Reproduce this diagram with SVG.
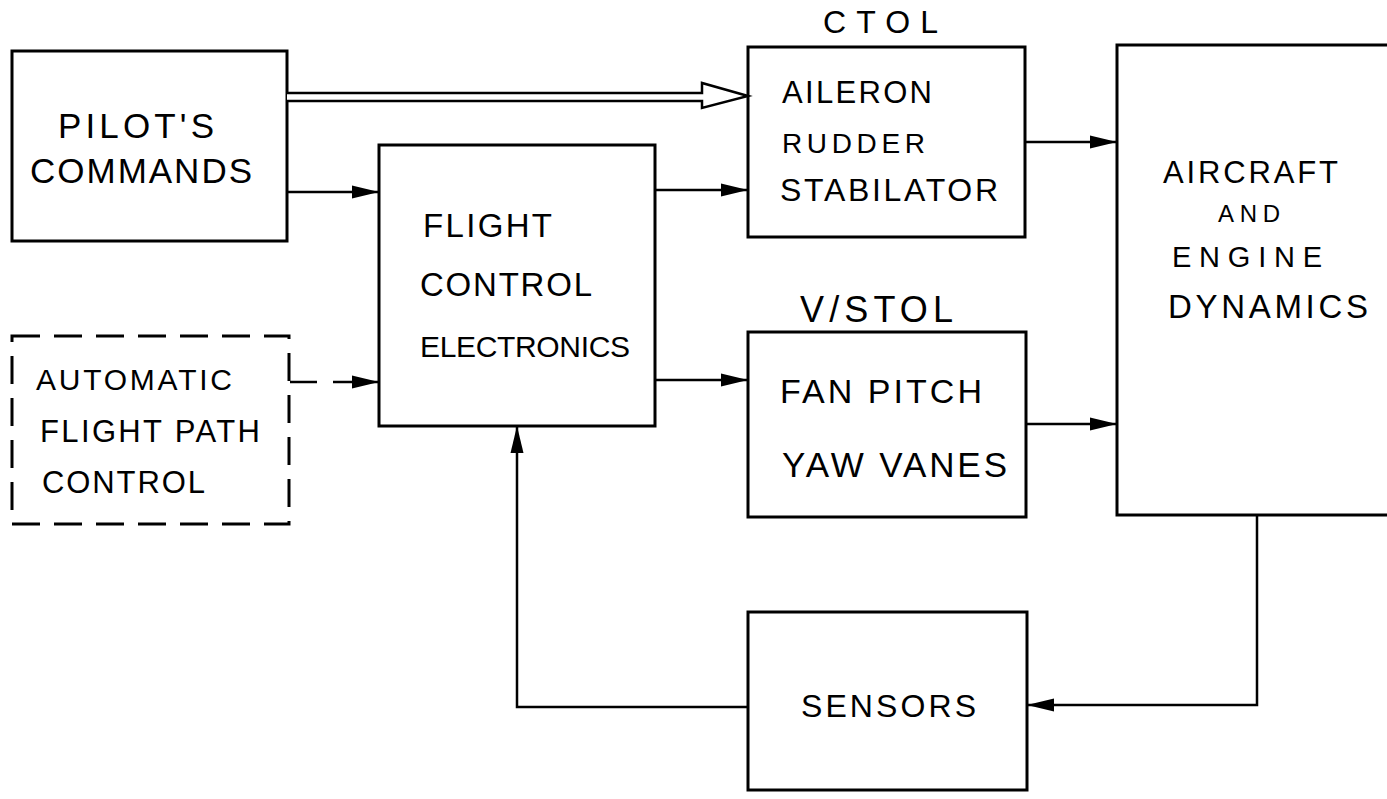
<svg xmlns="http://www.w3.org/2000/svg" width="1387" height="799" viewBox="0 0 1387 799">
<defs>
<style>
.box{fill:none;stroke:#000;stroke-width:3}
.dbox{fill:none;stroke:#000;stroke-width:3;stroke-dasharray:28 14}
.c{fill:none;stroke:#000;stroke-width:2.5}
.t{font-family:"Liberation Sans",Arial,sans-serif;fill:#000;font-size:31px}
</style>
<marker id="ah" markerUnits="userSpaceOnUse" markerWidth="30" markerHeight="16" refX="27" refY="8" orient="auto">
<path d="M0,1.5 L27,8 L0,14.5 Z" fill="#000"/>
</marker>
</defs>
<rect width="1387" height="799" fill="#fff"/>

<g id="pilots-commands">
<rect class="box" x="12" y="51" width="275" height="190"/>
<text class="t" x="58" y="138" textLength="156" lengthAdjust="spacing" style="font-size:35px">PILOT'S</text>
<text class="t" x="30" y="183" textLength="222" lengthAdjust="spacing" style="font-size:35px">COMMANDS</text>
</g>

<g id="automatic-flight-path-control">
<rect class="dbox" x="12" y="336" width="277" height="188"/>
<text class="t" x="36" y="390" textLength="196" lengthAdjust="spacing" style="font-size:30px">AUTOMATIC</text>
<text class="t" x="40" y="442" textLength="220" lengthAdjust="spacing" style="font-size:31px">FLIGHT  PATH</text>
<text class="t" x="42" y="493" textLength="163" lengthAdjust="spacing" style="font-size:31px">CONTROL</text>
</g>

<g id="flight-control-electronics">
<rect class="box" x="379" y="145" width="276" height="281"/>
<text class="t" x="423" y="237" textLength="129" lengthAdjust="spacing" style="font-size:33px">FLIGHT</text>
<text class="t" x="420" y="296" textLength="172" lengthAdjust="spacing" style="font-size:33px">CONTROL</text>
<text class="t" x="420" y="357" textLength="210" lengthAdjust="spacing" style="font-size:30px">ELECTRONICS</text>
</g>

<g id="ctol">
<text class="t" x="823" y="33" textLength="115" lengthAdjust="spacing" style="font-size:32px">CTOL</text>
<rect class="box" x="748" y="47" width="277" height="190"/>
<text class="t" x="782" y="103" textLength="150" lengthAdjust="spacing" style="font-size:31px">AILERON</text>
<text class="t" x="782" y="153" textLength="143" lengthAdjust="spacing" style="font-size:28px">RUDDER</text>
<text class="t" x="780" y="201" textLength="218" lengthAdjust="spacing" style="font-size:32px">STABILATOR</text>
</g>

<g id="vstol">
<text class="t" x="800" y="322" textLength="153" lengthAdjust="spacing" style="font-size:36px">V/STOL</text>
<rect class="box" x="748" y="332" width="278" height="185"/>
<text class="t" x="780" y="403" textLength="202" lengthAdjust="spacing" style="font-size:34px">FAN  PITCH</text>
<text class="t" x="782" y="477" textLength="225" lengthAdjust="spacing" style="font-size:35px">YAW  VANES</text>
</g>

<g id="aircraft-engine-dynamics">
<rect class="box" x="1117" y="45" width="275" height="470"/>
<text class="t" x="1163" y="183" textLength="175" lengthAdjust="spacing" style="font-size:31px">AIRCRAFT</text>
<text class="t" x="1218" y="222" textLength="62" lengthAdjust="spacing" style="font-size:24px">AND</text>
<text class="t" x="1172" y="267" textLength="150" lengthAdjust="spacing" style="font-size:29px">ENGINE</text>
<text class="t" x="1168" y="318" textLength="200" lengthAdjust="spacing" style="font-size:33px">DYNAMICS</text>
</g>

<g id="sensors">
<rect class="box" x="748" y="612" width="279" height="178"/>
<text class="t" x="801" y="717" textLength="175" lengthAdjust="spacing" style="font-size:32px">SENSORS</text>
</g>

<g id="connectors">
<path d="M287,93 H702 V83 L748,96 L702,108 V101 H287" fill="#fff" stroke="#000" stroke-width="2.5" stroke-linejoin="miter"/>
<line class="c" x1="287" y1="192" x2="379" y2="192" marker-end="url(#ah)"/>
<line class="c" x1="290" y1="382" x2="317" y2="382"/>
<line class="c" x1="333" y1="382" x2="379" y2="382" marker-end="url(#ah)"/>
<line class="c" x1="655" y1="190" x2="748" y2="190" marker-end="url(#ah)"/>
<line class="c" x1="655" y1="380" x2="748" y2="380" marker-end="url(#ah)"/>
<line class="c" x1="1025" y1="142" x2="1117" y2="142" marker-end="url(#ah)"/>
<line class="c" x1="1026" y1="424" x2="1117" y2="424" marker-end="url(#ah)"/>
<polyline class="c" points="1257,515 1257,705 1027,705" marker-end="url(#ah)"/>
<polyline class="c" points="748,707 517,707 517,426" marker-end="url(#ah)"/>
</g>
</svg>
